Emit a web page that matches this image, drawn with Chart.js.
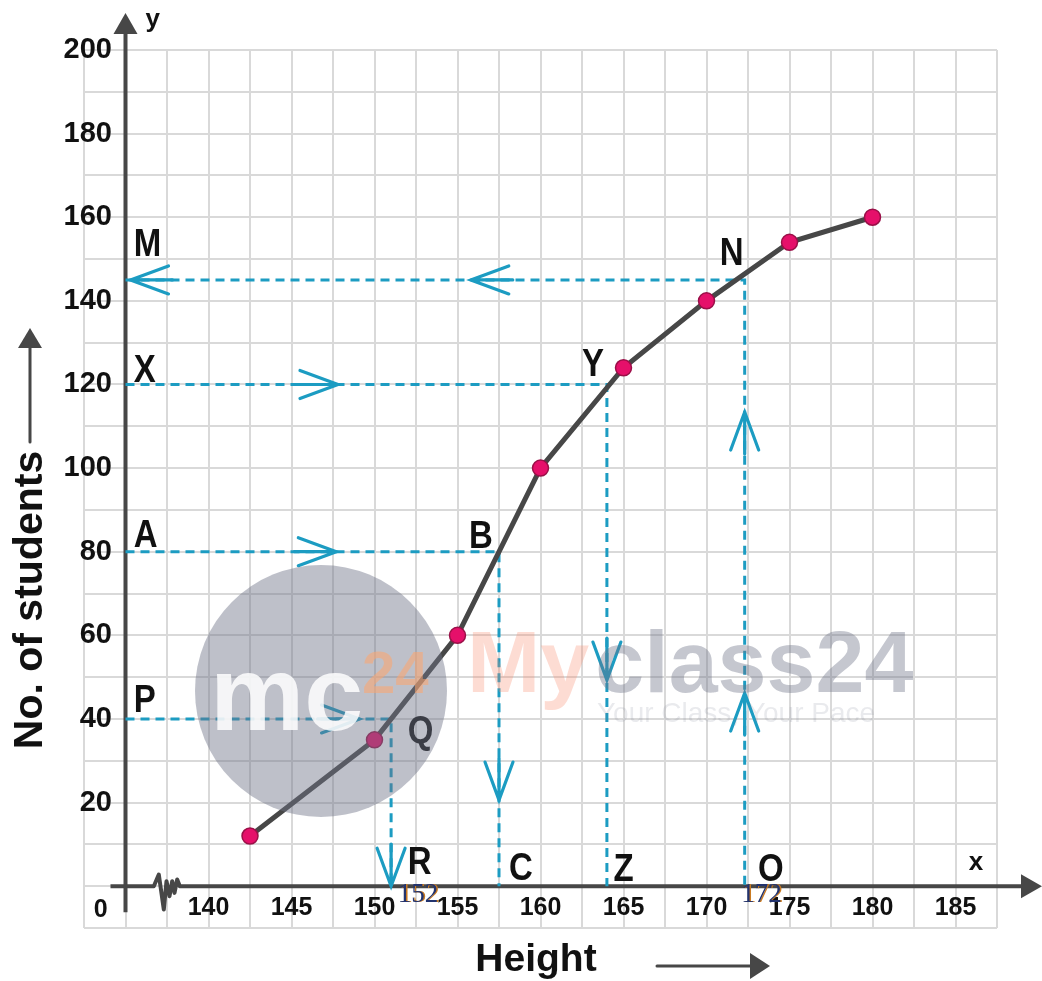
<!DOCTYPE html>
<html>
<head>
<meta charset="utf-8">
<title>Ogive - Height vs No. of students</title>
<script src="https://cdn.jsdelivr.net/npm/chart.js@4.4.1/dist/chart.umd.min.js"></script>
<style>
  html, body { margin: 0; padding: 0; background: #fff; }
  #wrap { width: 1042px; height: 981px; }
</style>
</head>
<body>
<div id="wrap"><canvas id="ogive"></canvas></div>
<script>
// ogive: height (upper limit) vs cumulative no. of students
const heights = [142.5, 150, 155, 160, 165, 170, 175, 180];
const cumFreq = [12, 35, 60, 100, 124, 140, 154, 160];

// tick labels
const xTickLabels = [140, 145, 150, 155, 160, 165, 170, 175, 180, 185];
const yTickLabels = [20, 40, 60, 80, 100, 120, 140, 160, 180, 200];

// reading lines P-Q-R, A-B-C, X-Y-Z, M-N-O
const guideY = [40, 80, 120, 145];
const guideX = [151, 157.5, 164, 172.3];
const axisX = 135; // where the y-axis (with the break) sits

// arrow heads on the reading lines
const arrowTips = [
  {x: 149.1, y: 40, dir: 'right'},
  {x: 147.7, y: 80, dir: 'right'},
  {x: 147.8, y: 120, dir: 'right'},
  {x: 155.8, y: 145, dir: 'left'},
  {x: 135.3, y: 145, dir: 'left'},
  {x: 151, y: 0, dir: 'down'},
  {x: 157.5, y: 20.6, dir: 'down'},
  {x: 164, y: 49.3, dir: 'down'},
  {x: 172.3, y: 46.2, dir: 'up'},
  {x: 172.3, y: 113.4, dir: 'up'}
];

// letters (left edge, vertical centre)
const letters = [
  {t: 'M', x: 135.5, y: 154},   {t: 'X', x: 135.5, y: 123.9},
  {t: 'A', x: 135.5, y: 84.4},  {t: 'P', x: 135.5, y: 45},
  {t: 'Q', x: 152, y: 37.6},    {t: 'B', x: 155.7, y: 84.1},
  {t: 'Y', x: 162.5, y: 125.4}, {t: 'N', x: 170.8, y: 152},
  {t: 'R', x: 152, y: 6.3},     {t: 'C', x: 158.1, y: 4.8},
  {t: 'Z', x: 164.4, y: 4.6},   {t: 'O', x: 173.1, y: 4.6}
];
const footValues = [{t: '152', x: 151.4, y: -1.5}, {t: '172', x: 172.1, y: -1.5}];

const FAMILY = '"Liberation Sans", Arial, Helvetica, sans-serif';
const BLUE = '#1c9cc2';
const AXIS = '#474747';

const yFont = {family: FAMILY, size: 29, weight: 'bold'};
const xFont = {family: FAMILY, size: 25, weight: 'bold'};

// widest y label, so the right edge of the labels lands at 28px inside the grid
const mctx = document.createElement('canvas').getContext('2d');
mctx.font = 'bold 29px ' + FAMILY;
const yWidest = mctx.measureText('200').width;

const guideSets = guideY.map((gy, i) => ({
  data: [{x: axisX, y: gy}, {x: guideX[i], y: gy}, {x: guideX[i], y: 0}],
  showLine: true,
  borderColor: BLUE,
  borderWidth: 3,
  borderDash: [9, 6],
  pointRadius: 0,
  tension: 0
}));

function chevron(ctx, px, py, dir) {
  const L = 38, W = 14;
  const d = {right: [1, 0], left: [-1, 0], up: [0, -1], down: [0, 1]}[dir];
  const bx = px - d[0] * L, by = py - d[1] * L;
  const nx = -d[1] * W, ny = d[0] * W;
  ctx.beginPath();
  ctx.moveTo(bx + nx, by + ny);
  ctx.lineTo(px, py);
  ctx.lineTo(bx - nx, by - ny);
  ctx.moveTo(px, py);
  ctx.lineTo(px - d[0] * (L + 4), py - d[1] * (L + 4));
  ctx.stroke();
}

const decor = {
  id: 'decor',
  beforeDatasetsDraw(chart) {
    const {ctx, scales: {x, y}} = chart;
    const ox = x.getPixelForValue(axisX), oy = y.getPixelForValue(0);
    ctx.save();
    ctx.strokeStyle = AXIS;
    ctx.fillStyle = AXIS;
    ctx.lineWidth = 4;
    ctx.lineJoin = 'round';
    // y axis with arrow
    ctx.beginPath();
    ctx.moveTo(ox, oy + 26);
    ctx.lineTo(ox, 30);
    ctx.stroke();
    ctx.beginPath();
    ctx.moveTo(ox, 13); ctx.lineTo(ox + 12, 34); ctx.lineTo(ox - 12, 34);
    ctx.closePath(); ctx.fill();
    // x axis with break and arrow
    const zig = [[28.3, 0], [33.3, -11.7], [38.3, 23.3], [41, -5], [44, 10],
                 [46.7, -5], [49, 6.7], [51.7, -6.7], [54.3, 0]];
    ctx.beginPath();
    ctx.moveTo(ox - 15, oy);
    zig.forEach(p => ctx.lineTo(ox + p[0], oy + p[1]));
    ctx.lineTo(x.right + 26, oy);
    ctx.stroke();
    ctx.beginPath();
    ctx.moveTo(x.right + 45, oy); ctx.lineTo(x.right + 24, oy - 12); ctx.lineTo(x.right + 24, oy + 12);
    ctx.closePath(); ctx.fill();
    ctx.restore();
  },
  afterDatasetsDraw(chart) {
    const {ctx, scales: {x, y}} = chart;
    ctx.save();
    // arrows on the reading lines
    ctx.strokeStyle = BLUE;
    ctx.lineWidth = 3.2;
    ctx.lineCap = 'round';
    arrowTips.forEach(a => chevron(ctx, x.getPixelForValue(a.x), y.getPixelForValue(a.y), a.dir));
    // letters: slightly tall bold face
    ctx.fillStyle = '#111';
    ctx.textAlign = 'left';
    ctx.textBaseline = 'alphabetic';
    ctx.font = 'bold 33px ' + FAMILY;
    letters.forEach(l => {
      ctx.save();
      ctx.translate(x.getPixelForValue(l.x), y.getPixelForValue(l.y));
      ctx.scale(1, 1.18);
      ctx.fillText(l.t, 0, 11.8);
      ctx.restore();
    });
    // axis letters and origin
    ctx.font = 'bold 26px ' + FAMILY;
    ctx.fillText('y', x.getPixelForValue(136.2), y.getPixelForValue(205.4));
    ctx.fillText('x', x.getPixelForValue(185.8), y.getPixelForValue(5.2) + 6);
    ctx.font = 'bold 25px ' + FAMILY;
    ctx.textAlign = 'center';
    ctx.fillText('0', x.getPixelForValue(133.5), y.getPixelForValue(-5.3) + 9);
    // values read at the feet
    ctx.textAlign = 'left';
    ctx.font = '27px "Liberation Serif", "Times New Roman", serif';
    footValues.forEach(f => {
      const fx = x.getPixelForValue(f.x), fy = y.getPixelForValue(f.y) + 10;
      ctx.fillStyle = '#c97a22';
      ctx.fillText(f.t, fx + 1.5, fy);
      ctx.fillStyle = '#22336e';
      ctx.fillText(f.t, fx, fy);
    });
    // axis titles with arrows
    ctx.fillStyle = '#111';
    ctx.strokeStyle = AXIS;
    ctx.lineWidth = 3;
    ctx.font = 'bold 41px ' + FAMILY;
    ctx.textAlign = 'center';
    ctx.textBaseline = 'alphabetic';
    ctx.save();
    ctx.translate(42, 600);
    ctx.rotate(-Math.PI / 2);
    ctx.fillText('No. of students', 0, 0);
    ctx.restore();
    ctx.fillStyle = AXIS;
    ctx.beginPath(); ctx.moveTo(30, 442); ctx.lineTo(30, 346); ctx.stroke();
    ctx.beginPath(); ctx.moveTo(30, 328); ctx.lineTo(42, 348); ctx.lineTo(18, 348); ctx.closePath(); ctx.fill();
    ctx.fillStyle = '#111';
    ctx.font = 'bold 39px ' + FAMILY;
    ctx.fillText('Height', 536, 971);
    ctx.fillStyle = AXIS;
    ctx.beginPath(); ctx.moveTo(657, 966); ctx.lineTo(752, 966); ctx.stroke();
    ctx.beginPath(); ctx.moveTo(770, 966); ctx.lineTo(750, 953); ctx.lineTo(750, 979); ctx.closePath(); ctx.fill();
    ctx.restore();
  },
  afterDraw(chart) {
    // faint site watermark
    const ctx = chart.ctx;
    ctx.save();
    ctx.fillStyle = 'rgba(110,115,135,0.45)';
    ctx.beginPath(); ctx.arc(321, 691, 126, 0, 2 * Math.PI); ctx.fill();
    ctx.textAlign = 'left';
    ctx.textBaseline = 'alphabetic';
    ctx.fillStyle = 'rgba(255,255,255,0.85)';
    ctx.font = 'bold 106px ' + FAMILY;
    ctx.fillText('mc', 210, 730);
    ctx.fillStyle = 'rgba(255,165,110,0.55)';
    ctx.font = 'bold 60px ' + FAMILY;
    ctx.fillText('24', 362, 693);
    ctx.font = 'bold 88px ' + FAMILY;
    ctx.fillStyle = 'rgba(250,140,110,0.3)';
    ctx.fillText('My', 467, 692);
    const myW = ctx.measureText('My').width;
    ctx.fillStyle = 'rgba(110,115,135,0.4)';
    ctx.fillText('class24', 467 + myW + 6, 692);
    ctx.font = '28px ' + FAMILY;
    ctx.fillStyle = 'rgba(120,125,140,0.16)';
    ctx.fillText('Your Class, Your Pace', 597, 722);
    ctx.restore();
  }
};

new Chart(document.getElementById('ogive'), {
  type: 'scatter',
  data: {
    datasets: [{
      data: heights.map((h, i) => ({x: h, y: cumFreq[i]})),
      showLine: true,
      borderColor: AXIS,
      borderWidth: 5,
      pointRadius: 8,
      pointBackgroundColor: '#e5106a',
      pointBorderColor: '#9a1048',
      pointBorderWidth: 1.5,
      tension: 0
    }].concat(guideSets)
  },
  options: {
    responsive: true,
    maintainAspectRatio: false,
    animation: false,
    layout: {padding: {left: 0, top: 50, right: 45, bottom: 0}},
    plugins: {legend: {display: false}, tooltip: {enabled: false}},
    scales: {
      x: {
        type: 'linear',
        min: 132.5,
        max: 187.5,
        afterFit(scale) { scale.height = 53; },
        grid: {color: '#d9d9d9', lineWidth: 2, drawTicks: false},
        border: {display: false},
        ticks: {
          stepSize: 2.5,
          autoSkip: false,
          maxRotation: 0,
          mirror: true,
          padding: 5,
          color: '#111',
          font: xFont,
          callback: v => xTickLabels.some(t => Math.abs(t - v) < 0.01) ? String(Math.round(v)) : ''
        }
      },
      y: {
        type: 'linear',
        min: -10,
        max: 200,
        afterFit(scale) { scale.width = 84; },
        grid: {color: '#d9d9d9', lineWidth: 2, drawTicks: false},
        border: {display: false},
        ticks: {
          stepSize: 10,
          autoSkip: false,
          mirror: true,
          crossAlign: 'far',
          padding: 28 - yWidest,
          color: '#111',
          font: yFont,
          callback: v => yTickLabels.includes(v) ? String(v) : ''
        }
      }
    }
  },
  plugins: [decor]
});
</script>
</body>
</html>
